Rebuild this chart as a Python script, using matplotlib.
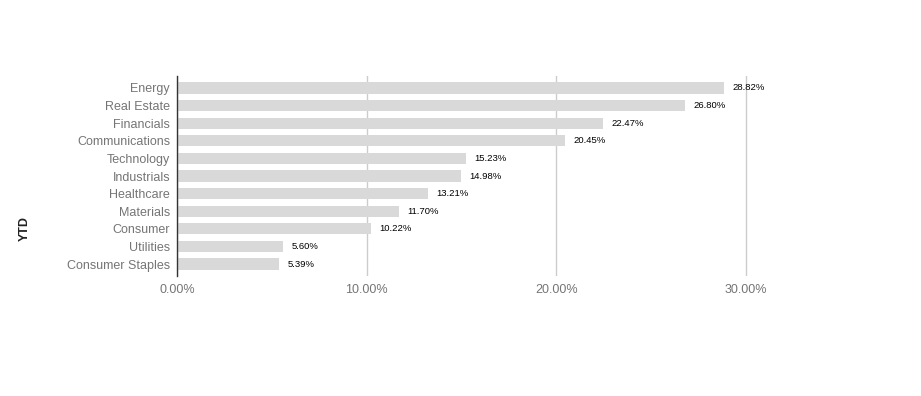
import matplotlib
matplotlib.use("Agg")
import matplotlib.pyplot as plt
from matplotlib.ticker import FuncFormatter

categories = ["Energy", "Real Estate", "Financials", "Communications", "Technology",
              "Industrials", "Healthcare", "Materials", "Consumer", "Utilities",
              "Consumer Staples"]
values = [28.82, 26.80, 22.47, 20.45, 15.23, 14.98, 13.21, 11.70, 10.22, 5.60, 5.39]
xticks = [0, 10, 20, 30]

plt.rcParams['font.family'] = ['Liberation Sans', 'DejaVu Sans']

left_px, right_px, grid30_px = 177, 760, 746
fig = plt.figure(figsize=(9.21, 3.96), dpi=100)
ax = fig.add_axes([left_px/921, 1-276/396, (right_px-left_px)/921, 200/396])

y = list(range(len(categories)))
ax.barh(y, values, height=0.64, color="#d9d9d9", zorder=2)
for yi, v in zip(y, values):
    ax.text(v + 0.45, yi, f"{v:.2f}%", va="center", ha="left", fontsize=6.8, color="#000000")

pad = 0.18
ax.set_ylim(len(categories) - 0.5 + pad, -0.5 - pad)
ax.set_xlim(0, 30 * (right_px - left_px) / (grid30_px - left_px))
ax.set_xticks(xticks)
ax.xaxis.set_major_formatter(FuncFormatter(lambda v, p: f"{v:.2f}%"))
ax.set_yticks(y)
ax.set_yticklabels(categories)
ax.tick_params(axis="y", length=0, pad=5, labelsize=9, labelcolor="#757575")
ax.tick_params(axis="x", length=0, pad=6, labelsize=9, labelcolor="#757575")
ax.grid(axis="x", color="#cccccc", linewidth=1, zorder=0)
for s in ["top", "right", "bottom"]:
    ax.spines[s].set_visible(False)
ax.spines["left"].set_color("#333333")
ax.spines["left"].set_linewidth(1)
ax.spines["left"].set_zorder(3)

fig.text(25/921, 1-228/396, "YTD", rotation=90, ha="center", va="center",
         fontsize=9, fontweight="bold", color="#222222")

fig.savefig("out.png", dpi=100)
